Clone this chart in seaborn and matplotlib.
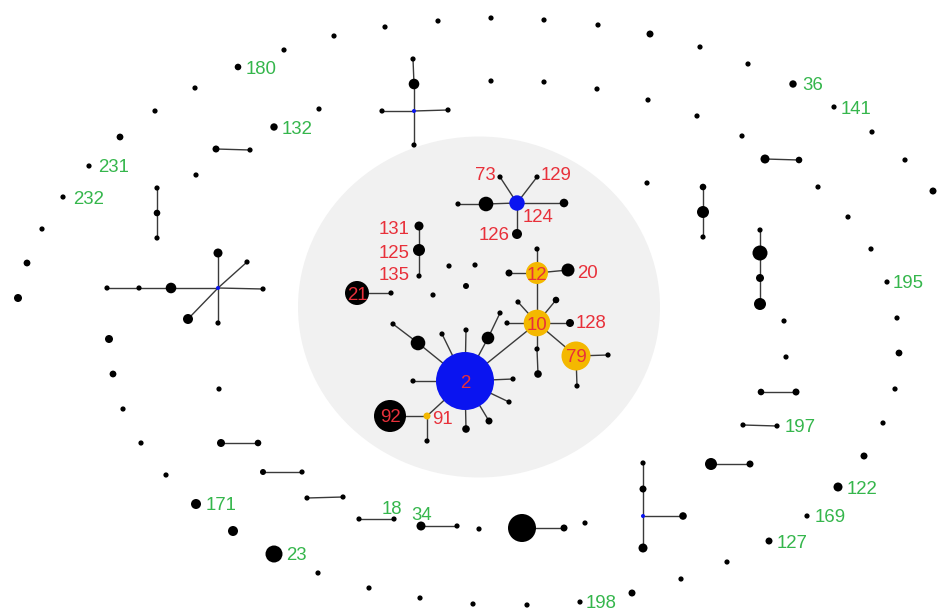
import matplotlib
matplotlib.use("Agg")
import matplotlib.pyplot as plt
from matplotlib.patches import Ellipse
from matplotlib.collections import LineCollection
import pandas as pd
import seaborn as sns

# ---- nodes that carry an edge or a label (pixel coordinates of the layout) ----
node_id = [
    "a1", "a2", "b1", "b2", "b3",
    "c0", "c1", "c2", "c3", "c4", "c5",
    "d0", "d1", "d2", "d3", "d4", "d5", "d6", "d7", "d8",
    "e1", "e2", "f1", "f2", "f3", "h1", "h2", "h3", "h4",
    "i1", "i2", "j1", "j2", "k1", "k2",
    "t0", "t1", "t2", "t3", "t4",
    "l1", "l2", "m1", "m2", "o1", "o2", "p1", "p2", "q1", "q2", "r1", "r2",
    "g180", "g132", "g231", "g232", "g36", "g141", "g195", "g122", "g169",
    "g127", "g171", "g23", "g198",
    "n124", "x1", "x2", "x3", "n73", "n129", "n126",
    "n131", "n125", "n135", "n21", "y1",
    "n12", "z1", "z2", "n20",
    "n10", "w1", "w2", "w3", "n128", "w4", "w5",
    "n79", "v1", "v2",
    "n2", "u1", "u2", "u3", "u4", "u5", "u6", "u7", "u8", "u9", "u10", "u11",
    "n91", "n92", "u12",
]
node_x = [
    216, 250, 157, 157, 157,
    414, 413, 414, 382, 448, 414,
    218, 218, 247, 263, 218, 188, 171, 139, 107,
    765, 799, 703, 703, 703, 760, 760, 760, 760,
    761, 796, 743, 777, 711, 750,
    643, 643, 643, 643, 683,
    221, 258, 263, 302, 359, 394, 421, 457, 522, 564, 307, 343,
    238, 274, 89, 63, 793, 834, 887, 838, 807,
    769, 196, 274, 580,
    517, 486, 458, 564, 500, 537, 517,
    419, 419, 419, 357, 391,
    537, 509, 537, 568,
    537, 518, 556, 507, 570, 537, 538,
    576, 608, 577,
    465, 418, 393, 442, 466, 488, 500, 413, 513, 509, 466, 489,
    427, 390, 427,
]
node_y = [
    149, 150, 188, 213, 238,
    111, 59, 84, 111, 110, 145,
    288, 253, 262, 289, 323, 319, 288, 288, 288,
    159, 160, 187, 212, 237, 230, 253, 278, 304,
    392, 392, 425, 426, 464, 464,
    516, 463, 489, 548, 516,
    443, 443, 472, 472, 519, 519, 526, 526, 528, 528, 498, 497,
    67, 127, 166, 197, 84, 107, 282, 487, 516,
    541, 504, 554, 602,
    203, 204, 204, 203, 177, 177, 234,
    226, 250, 276, 293, 293,
    273, 273, 249, 270,
    323, 302, 300, 323, 323, 349, 374,
    356, 355, 386,
    381, 343, 324, 334, 330, 338, 313, 381, 379, 402, 429, 421,
    416, 416, 441,
]
node_r = [
    3.5, 2.6, 2.6, 3.3, 2.6,
    2.0, 2.6, 5.3, 2.6, 2.6, 2.6,
    2.0, 4.5, 2.6, 2.6, 2.6, 5.0, 5.3, 2.6, 2.6,
    4.5, 3.3, 3.3, 6.0, 2.6, 2.6, 7.5, 4.0, 6.0,
    3.3, 3.5, 2.6, 2.6, 6.0, 3.5,
    2.0, 2.6, 3.5, 4.5, 3.8,
    4.0, 3.3, 3.0, 2.6, 2.6, 2.6, 4.5, 2.6, 14.0, 3.5, 2.6, 2.6,
    3.3, 3.7, 2.6, 2.6, 3.7, 2.6, 2.6, 4.5, 2.6,
    3.5, 5.0, 8.5, 2.6,
    7.7, 7.3, 2.6, 4.3, 2.6, 2.6, 5.0,
    4.5, 6.0, 2.6, 12.0, 2.6,
    11.0, 3.5, 2.6, 6.5,
    13.3, 2.6, 3.3, 2.6, 4.0, 2.6, 3.8,
    14.5, 2.6, 2.6,
    29.0, 7.3, 2.6, 2.6, 2.6, 6.3, 2.6, 2.6, 2.6, 2.6, 3.8, 3.5,
    3.5, 16.0, 2.6,
]
blue_nodes = ["c0", "d0", "t0", "n124", "n2"]
yellow_nodes = ["n12", "n10", "n79", "n91"]

# ---- isolated single dots ----
loose_x = [284, 334, 385, 438, 491, 544, 598, 650, 700, 748, 872, 905, 933,
           195, 155, 120, 42, 27, 18, 319, 196, 491, 544, 597, 648, 697, 742,
           647, 818, 848, 871, 897, 899, 895, 784, 786,
           109, 113, 123, 141, 166, 233, 318, 369, 420, 473, 527, 632, 681,
           727, 864, 883, 219, 479, 585,
           449, 475, 466, 433]
loose_y = [50, 36, 27, 21, 18, 20, 25, 34, 47, 64, 132, 160, 191,
           88, 111, 137, 229, 263, 298, 109, 175, 81, 82, 89, 100, 116, 136,
           183, 187, 217, 249, 318, 353, 389, 321, 357,
           339, 374, 409, 443, 475, 531, 573, 588, 598, 604, 605, 593, 579,
           562, 456, 423, 389, 529, 523,
           266, 265, 286, 295]
loose_r = [2.6, 2.6, 2.6, 2.6, 2.6, 2.6, 2.6, 3.5, 2.6, 2.6, 2.6, 2.6, 3.5,
           2.6, 2.6, 3.4, 2.6, 3.4, 4.0, 2.6, 2.6, 2.6, 2.6, 2.6, 2.6, 2.6, 2.6,
           2.6, 2.6, 2.6, 2.6, 2.6, 3.4, 2.6, 2.6, 2.6,
           4.0, 3.4, 2.6, 2.6, 2.6, 5.0, 2.6, 2.6, 2.6, 2.6, 2.6, 3.5, 2.6,
           2.6, 3.5, 2.6, 2.6, 2.6, 2.6,
           2.6, 2.6, 3.0, 2.6]

# ---- links ----
edges = [
    ("a1", "a2"), ("b1", "b2"), ("b2", "b3"),
    ("c1", "c2"), ("c2", "c0"), ("c0", "c5"), ("c3", "c0"), ("c0", "c4"),
    ("d0", "d1"), ("d0", "d2"), ("d0", "d3"), ("d0", "d4"), ("d0", "d5"),
    ("d0", "d6"), ("d6", "d7"), ("d7", "d8"),
    ("e1", "e2"), ("f1", "f2"), ("f2", "f3"),
    ("h1", "h2"), ("h2", "h3"), ("h3", "h4"),
    ("i1", "i2"), ("j1", "j2"), ("k1", "k2"),
    ("t1", "t2"), ("t2", "t0"), ("t0", "t3"), ("t0", "t4"),
    ("l1", "l2"), ("m1", "m2"), ("r1", "r2"), ("o1", "o2"), ("p1", "p2"),
    ("q1", "q2"),
    ("x2", "x1"), ("x1", "n124"), ("n124", "x3"), ("n124", "n73"),
    ("n124", "n129"), ("n124", "n126"),
    ("n131", "n125"), ("n125", "n135"), ("n21", "y1"),
    ("z1", "n12"), ("n12", "n20"), ("z2", "n12"), ("n12", "n10"),
    ("n10", "w1"), ("n10", "w2"), ("n10", "w3"), ("n10", "n128"),
    ("n10", "w4"), ("w4", "w5"), ("n10", "n79"), ("n79", "v1"), ("n79", "v2"),
    ("n2", "n10"), ("n2", "u1"), ("u1", "u2"), ("n2", "u3"), ("n2", "u4"),
    ("n2", "u5"), ("u5", "u6"), ("n2", "u7"), ("n2", "u8"), ("n2", "u9"),
    ("n2", "u10"), ("n2", "u11"), ("n2", "n91"), ("n91", "n92"),
    ("n91", "u12"),
]

# ---- labels ----
green_text = ["180", "132", "231", "232", "36", "141", "195", "197", "122",
              "169", "127", "171", "23", "198", "18", "34"]
green_node = ["g180", "g132", "g231", "g232", "g36", "g141", "g195", "j2",
              "g122", "g169", "g127", "g171", "g23", "g198", "o2", "p1"]
red_text = ["73", "129", "124", "126", "131", "125", "135", "20", "128", "91"]
red_node = ["n73", "n129", "n124", "n126", "n131", "n125", "n135", "n20",
            "n128", "n91"]
inner_text = ["2", "12", "10", "79", "21", "92"]
inner_node = ["n2", "n12", "n10", "n79", "n21", "n92"]

# label placement (pixel offsets from the node)
green_off = [(8, 0), (8, 0), (9, 0), (10, 0), (9, 0), (7, 0), (6, 0), (8, 0),
             (9, 0), (8, 0), (8, 0), (10, 0), (12, 0), (6, 0), (-2, -12),
             (1, -13)]
green_ha = ["left"] * 14 + ["center", "center"]
red_off = [(-4, -4), (4, -4), (6, 13), (-7, -1), (-10, 2), (-10, 1), (-9, -3),
           (9, 1), (6, -1), (5, 2)]
red_ha = ["right", "left", "left", "right", "right", "right", "right", "left",
          "left", "left"]

GREEN = "#35b64c"
RED = "#e8303a"
BLUE = "#0a14f0"
YELLOW = "#f4b800"
PX = 0.72  # points per pixel at dpi 100

kind = ["blue" if n in blue_nodes else "yellow" if n in yellow_nodes else "black"
        for n in node_id]
nodes = pd.DataFrame({"id": node_id, "x": node_x, "y": node_y, "r": node_r,
                      "kind": kind})
loose = pd.DataFrame({"x": loose_x, "y": loose_y, "r": loose_r,
                      "kind": "black"})
allnodes = pd.concat([nodes.drop(columns="id"), loose], ignore_index=True)
allnodes["area"] = (2 * allnodes["r"] * PX) ** 2
pos = {n: (x, y) for n, x, y in zip(node_id, node_x, node_y)}

sns.set_style("white")
plt.rcParams["font.family"] = ["Liberation Sans", "DejaVu Sans"]

fig = plt.figure(figsize=(9.5, 6.09), dpi=100)
ax = fig.add_axes([0, 0, 1, 1])
ax.set_xlim(0, 950)
ax.set_ylim(609, 0)
ax.axis("off")

# light grey area around the central complex
ax.add_patch(Ellipse((479, 307), 362, 341, facecolor="#f1f1f1",
                     edgecolor="none", zorder=0))

segs = [[pos[a], pos[b]] for a, b in edges]
ax.add_collection(LineCollection(segs, colors="#3a3a3a", linewidths=1.0,
                                 zorder=1))

amin, amax = allnodes["area"].min(), allnodes["area"].max()
sns.scatterplot(data=allnodes, x="x", y="y", hue="kind", size="area",
                sizes=(amin, amax), size_norm=(amin, amax),
                palette={"black": "#000000", "blue": BLUE, "yellow": YELLOW},
                linewidth=0, legend=False, ax=ax, zorder=2)
ax.set_xlim(0, 950)
ax.set_ylim(609, 0)

fs = 13.4
for t, n, (dx, dy), ha in zip(green_text, green_node, green_off, green_ha):
    x, y = pos[n]
    ax.text(x + dx, y + dy, t, color=GREEN, fontsize=fs, ha=ha,
            va="center_baseline", zorder=3)
for t, n, (dx, dy), ha in zip(red_text, red_node, red_off, red_ha):
    x, y = pos[n]
    ax.text(x + dx, y + dy, t, color=RED, fontsize=fs, ha=ha,
            va="center_baseline", zorder=3)
for t, n in zip(inner_text, inner_node):
    x, y = pos[n]
    ax.text(x, y, t, color=RED, fontsize=fs, ha="center",
            va="center_baseline", zorder=3)

fig.savefig("out.png", dpi=100)
